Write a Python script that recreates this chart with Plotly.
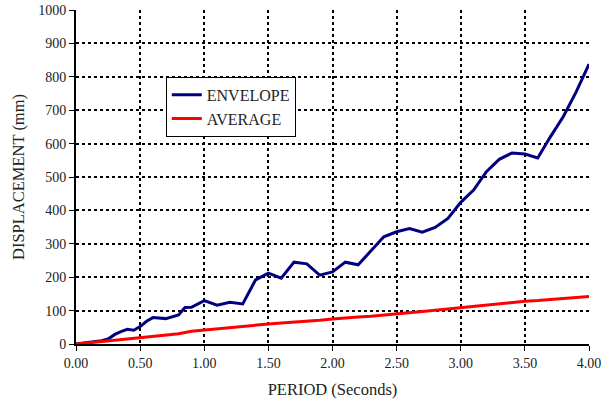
import plotly.graph_objects as go

# Envelope displacement spectrum (period in s, displacement in mm)
env_period = [0, 0.1, 0.2, 0.25, 0.3, 0.35, 0.4, 0.45, 0.5, 0.55, 0.6, 0.7, 0.8, 0.85, 0.9,
              1.0, 1.1, 1.2, 1.3, 1.4, 1.5, 1.6, 1.7, 1.8, 1.9, 2.0, 2.1, 2.2, 2.3, 2.4,
              2.5, 2.6, 2.7, 2.8, 2.9, 3.0, 3.1, 3.2, 3.3, 3.4, 3.5, 3.6, 3.7, 3.8, 3.9, 4.0]
env_disp = [0, 4, 10, 15, 28, 37, 44, 41, 52, 68, 79, 76, 87, 109, 110,
            130, 116, 125, 120, 192, 212, 197, 245, 240, 206, 216, 245, 237, 278, 321,
            336, 346, 335, 349, 376, 424, 461, 516, 553, 572, 569, 557, 621, 681, 755, 838]

# Average displacement spectrum
avg_period = [0, 0.1, 0.2, 0.3, 0.4, 0.5, 0.6, 0.7, 0.8, 0.9, 1.0, 1.1, 1.2, 1.3, 1.4,
              1.5, 1.6, 1.7, 1.8, 1.9, 2.0, 2.1, 2.2, 2.3, 2.4, 2.5, 2.6, 2.7, 2.8, 2.9,
              3.0, 3.1, 3.2, 3.3, 3.4, 3.5, 3.6, 3.7, 3.8, 3.9, 4.0]
avg_disp = [0, 3, 7, 11, 15, 19, 22, 25, 31, 38, 42, 46, 50, 53, 56,
            60, 63, 65, 67, 71, 75, 79, 81, 83, 86, 90, 93, 97, 101, 105,
            109, 113, 118, 122, 125, 128, 130, 133, 136, 139, 142]

x_ticks = [0, 0.5, 1.0, 1.5, 2.0, 2.5, 3.0, 3.5, 4.0]
x_tick_labels = ["0.00", "0.50", "1.00", "1.50", "2.00", "2.50", "3.00", "3.50", "4.00"]
y_ticks = list(range(0, 1001, 100))

SERIF = "Liberation Serif"
TEXT = "#222222"

fig = go.Figure()
fig.add_trace(go.Scatter(x=env_period, y=env_disp, mode="lines", name="ENVELOPE",
                         line=dict(color="#000080", width=3)))
fig.add_trace(go.Scatter(x=avg_period, y=avg_disp, mode="lines", name="AVERAGE",
                         line=dict(color="#FF0000", width=3)))

fig.update_layout(
    width=612, height=404,
    margin=dict(l=76, r=23, t=10, b=60),
    paper_bgcolor="white", plot_bgcolor="white",
    font=dict(family=SERIF, size=14, color=TEXT),
    showlegend=True,
    legend=dict(
        x=0.175, y=0.80, xanchor="left", yanchor="top",
        bgcolor="white", bordercolor="black", borderwidth=1,
        font=dict(family=SERIF, size=16, color=TEXT),
        itemwidth=30, tracegroupgap=0,
    ),
    xaxis=dict(
        range=[0, 4], tickvals=x_ticks, ticktext=x_tick_labels,
        showgrid=True, gridcolor="black", griddash="dot", gridwidth=2,
        showline=True, linecolor="black", linewidth=2,
        ticks="outside", ticklen=5, tickcolor="black", tickwidth=1,
        zeroline=False, automargin=False,
        tickfont=dict(family=SERIF, size=14, color=TEXT),
        title=dict(text="PERIOD (Seconds)", font=dict(family=SERIF, size=16.5, color=TEXT), standoff=14),
    ),
    yaxis=dict(
        range=[0, 1000], tickvals=y_ticks,
        showgrid=True, gridcolor="black", griddash="dot", gridwidth=2,
        showline=True, linecolor="black", linewidth=2,
        ticks="outside", ticklen=5, tickcolor="black", tickwidth=1,
        zeroline=False, automargin=False,
        tickfont=dict(family=SERIF, size=14, color=TEXT),
        title=dict(text="DISPLACEMENT (mm)", font=dict(family=SERIF, size=16.5, color=TEXT), standoff=9),
    ),
)

fig.write_html("out.html")
